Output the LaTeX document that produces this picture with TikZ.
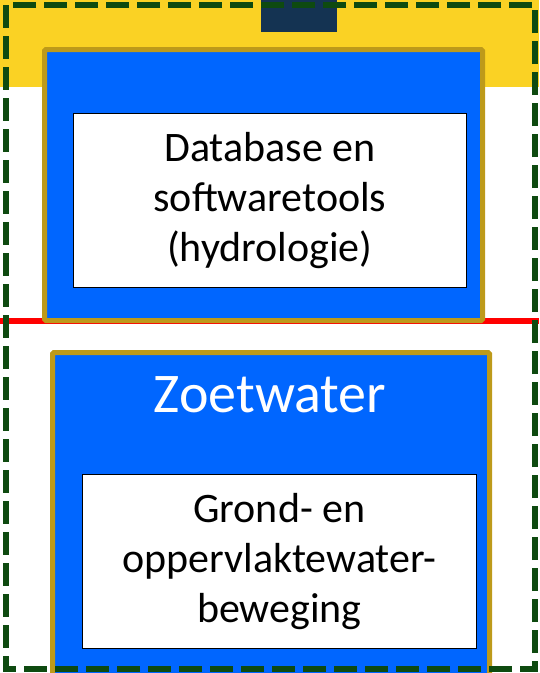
\documentclass[tikz,border=0pt]{standalone}
\usepackage{fontspec}
\setmainfont{Carlito}
\definecolor{band}{HTML}{FAD224}
\definecolor{navy}{HTML}{143352}
\definecolor{boxblue}{HTML}{0066FF}
\definecolor{gold}{HTML}{BD9A1A}
\definecolor{dgreen}{HTML}{0E4A10}
\definecolor{redline}{HTML}{FF0000}
\tikzset{
  bluebox/.style={fill=boxblue, draw=gold, line width=5pt, rounded corners=1.5pt},
  whitebox/.style={fill=white, draw=black, line width=1.8pt},
  bodytext/.style={align=center, font=\fontsize{42}{50}\selectfont, text=black},
  titletext/.style={font=\fontsize{56}{64}\selectfont, text=white},
  frame/.style={draw=dgreen, line width=6pt, dash pattern=on 23pt off 8pt}
}
\begin{document}
\begin{tikzpicture}[x=1pt,y=-1pt]
\useasboundingbox (0,0) rectangle (539,673);
% yellow band
\fill[band] (0,0) rectangle (539,87);
% navy tab
\fill[navy] (261,0) rectangle (337,32);
% red line
\draw[redline, line width=6pt] (0,321) -- (539,321);
% upper blue box
\draw[bluebox] (44.5,49.5) rectangle (482.5,320.5);
\node[whitebox, minimum width=393pt, minimum height=174pt, anchor=north west] (dbbox) at (72.5,112.5) {};
\node[bodytext] (dbtext) at (dbbox.center) {Database en\\softwaretools\\(hydrologie)};
% lower blue box
\draw[bluebox] (52.5,352.5) rectangle (489.5,700);
\node[titletext] (zt) at (270,395) {Zoetwater};
\node[whitebox, minimum width=394pt, minimum height=174pt, anchor=north west] (gwbox) at (81.5,473.5) {};
\node[bodytext] (gwtext) at (gwbox.center) {Grond- en\\oppervlaktewater-\\beweging};
% dashed frame
\draw[frame] (6,5) rectangle (535,669);
\end{tikzpicture}
\end{document}
